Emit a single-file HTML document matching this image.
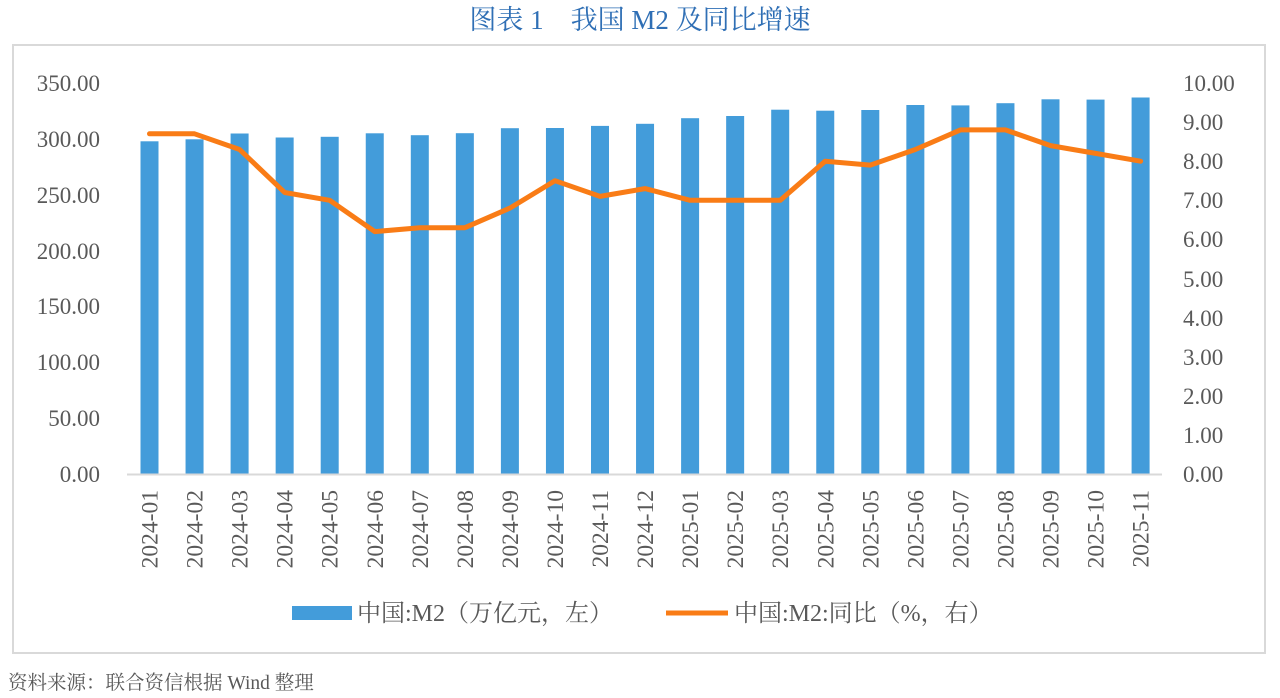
<!DOCTYPE html>
<html><head><meta charset="utf-8"><style>
body{margin:0;background:#fff;}
svg{display:block;}
</style></head><body>
<svg width="1280" height="698" xmlns="http://www.w3.org/2000/svg" font-family="'Liberation Serif','Noto Serif CJK SC',serif">
<text x="640" y="29" text-anchor="middle" font-size="27" fill="#2f6fb5">图表 1　我国 M2 及同比增速</text>
<rect x="13" y="45" width="1252" height="608" fill="#fff" stroke="#d9d9d9" stroke-width="2"/>
<g font-size="23" fill="#595959" text-anchor="end">
<text x="100" y="482">0.00</text><text x="100" y="426">50.00</text><text x="100" y="370">100.00</text><text x="100" y="314">150.00</text><text x="100" y="259">200.00</text><text x="100" y="203">250.00</text><text x="100" y="147">300.00</text><text x="100" y="91">350.00</text>
</g>
<g font-size="23" fill="#595959">
<text x="1183" y="482">0.00</text><text x="1183" y="443">1.00</text><text x="1183" y="404">2.00</text><text x="1183" y="365">3.00</text><text x="1183" y="326">4.00</text><text x="1183" y="287">5.00</text><text x="1183" y="247">6.00</text><text x="1183" y="208">7.00</text><text x="1183" y="169">8.00</text><text x="1183" y="130">9.00</text><text x="1183" y="91">10.00</text>
</g>
<g fill="#439cda">
<rect x="140.5" y="141.3" width="18" height="332.7"/>
<rect x="185.55" y="139.3" width="18" height="334.7"/>
<rect x="230.6" y="133.5" width="18" height="340.5"/>
<rect x="275.65" y="137.5" width="18" height="336.5"/>
<rect x="320.7" y="136.8" width="18" height="337.2"/>
<rect x="365.75" y="133.3" width="18" height="340.7"/>
<rect x="410.8" y="135.2" width="18" height="338.8"/>
<rect x="455.85" y="133.2" width="18" height="340.8"/>
<rect x="500.9" y="128.2" width="18" height="345.8"/>
<rect x="545.95" y="128.0" width="18" height="346.0"/>
<rect x="591.0" y="125.9" width="18" height="348.1"/>
<rect x="636.05" y="123.8" width="18" height="350.2"/>
<rect x="681.1" y="118.2" width="18" height="355.8"/>
<rect x="726.15" y="116.0" width="18" height="358.0"/>
<rect x="771.2" y="109.7" width="18" height="364.3"/>
<rect x="816.25" y="110.7" width="18" height="363.3"/>
<rect x="861.3" y="110.0" width="18" height="364.0"/>
<rect x="906.35" y="105.0" width="18" height="369.0"/>
<rect x="951.4" y="105.4" width="18" height="368.6"/>
<rect x="996.45" y="103.2" width="18" height="370.8"/>
<rect x="1041.5" y="99.3" width="18" height="374.7"/>
<rect x="1086.55" y="99.6" width="18" height="374.4"/>
<rect x="1131.6" y="97.5" width="18" height="376.5"/>
</g>
<line x1="127" y1="474.5" x2="1162" y2="474.5" stroke="#d9d9d9" stroke-width="2"/>
<polyline points="149.5,133.8 194.55,133.8 239.6,149.5 284.65,192.5 329.7,200.3 374.75,231.6 419.8,227.7 464.85,227.7 509.9,208.1 554.95,180.7 600,196.4 645.05,188.6 690.1,200.3 735.15,200.3 780.2,200.3 825.25,161.2 870.3,165.1 915.35,149.5 960.4,129.9 1005.45,129.9 1050.5,145.6 1095.55,153.4 1140.6,161.2" fill="none" stroke="#f97c16" stroke-width="5" stroke-linejoin="round" stroke-linecap="round"/>
<g font-size="23.5" fill="#595959" text-anchor="end">
<text transform="translate(157.5,490) rotate(-90)">2024-01</text>
<text transform="translate(202.55,490) rotate(-90)">2024-02</text>
<text transform="translate(247.6,490) rotate(-90)">2024-03</text>
<text transform="translate(292.65,490) rotate(-90)">2024-04</text>
<text transform="translate(337.7,490) rotate(-90)">2024-05</text>
<text transform="translate(382.75,490) rotate(-90)">2024-06</text>
<text transform="translate(427.8,490) rotate(-90)">2024-07</text>
<text transform="translate(472.85,490) rotate(-90)">2024-08</text>
<text transform="translate(517.9,490) rotate(-90)">2024-09</text>
<text transform="translate(562.95,490) rotate(-90)">2024-10</text>
<text transform="translate(608,490) rotate(-90)">2024-11</text>
<text transform="translate(653.05,490) rotate(-90)">2024-12</text>
<text transform="translate(698.1,490) rotate(-90)">2025-01</text>
<text transform="translate(743.15,490) rotate(-90)">2025-02</text>
<text transform="translate(788.2,490) rotate(-90)">2025-03</text>
<text transform="translate(833.25,490) rotate(-90)">2025-04</text>
<text transform="translate(878.3,490) rotate(-90)">2025-05</text>
<text transform="translate(923.35,490) rotate(-90)">2025-06</text>
<text transform="translate(968.4,490) rotate(-90)">2025-07</text>
<text transform="translate(1013.45,490) rotate(-90)">2025-08</text>
<text transform="translate(1058.5,490) rotate(-90)">2025-09</text>
<text transform="translate(1103.55,490) rotate(-90)">2025-10</text>
<text transform="translate(1148.6,490) rotate(-90)">2025-11</text>
</g>
<rect x="292" y="606" width="60" height="14" fill="#439cda"/>
<text x="357" y="621" font-size="24" fill="#595959">中国:M2（万亿元，左）</text>
<line x1="666" y1="613" x2="728" y2="613" stroke="#f97c16" stroke-width="5"/>
<text x="734" y="621" font-size="24" fill="#595959">中国:M2:同比（%，右）</text>
<text x="8" y="689" font-size="19.5" fill="#595959">资料来源：联合资信根据 Wind 整理</text>
</svg>
</body></html>
